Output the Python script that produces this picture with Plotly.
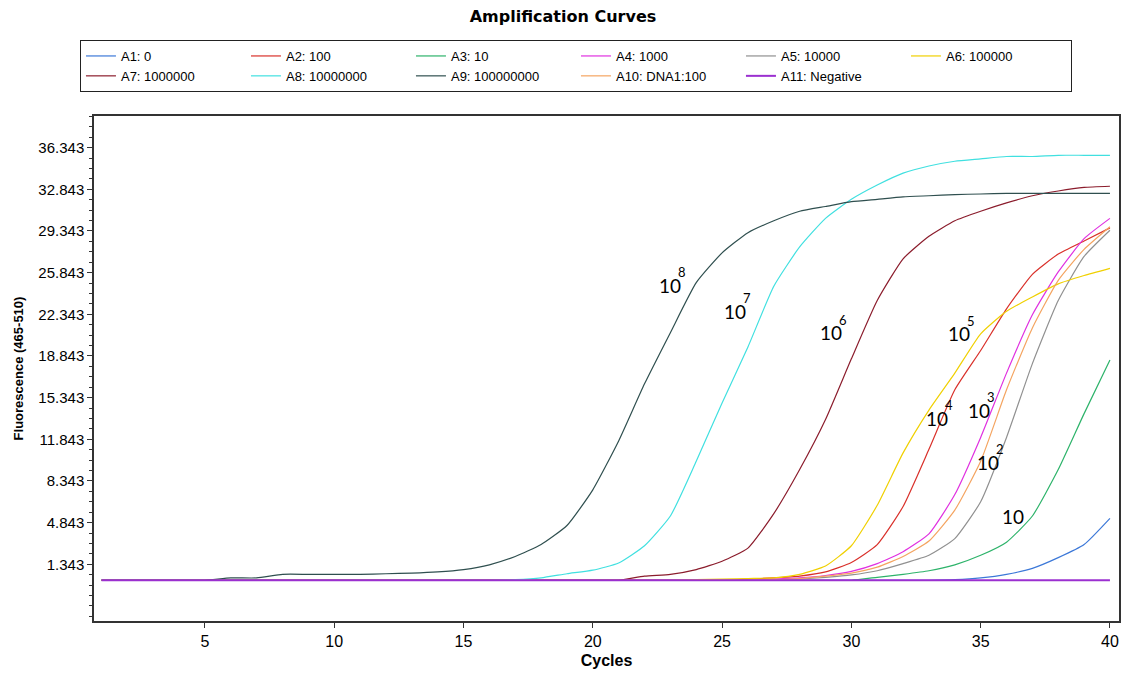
import plotly.graph_objects as go

cycles = list(range(1, 41))

series_names = ["A1: 0", "A2: 100", "A3: 10", "A4: 1000", "A5: 10000", "A6: 100000",
                "A7: 1000000", "A8: 10000000", "A9: 100000000", "A10: DNA1:100", "A11: Negative"]
series_colors = ["#3C78D8", "#D9302A", "#2DB36A", "#E030E0", "#909090", "#F0D000",
                 "#8B1C2C", "#40E0E0", "#2F4F4F", "#F4A460", "#9B30D0"]

a1 = [0]*33 + [0.05, 0.2, 0.5, 1.0, 1.9, 3.0, 5.2]
a2 = [0]*25 + [0.1, 0.2, 0.35, 0.7, 1.5, 3.0, 6.2, 11.0, 16.0, 19.3, 22.8, 25.7, 27.4, 28.5, 29.6]
a3 = [0]*30 + [0.25, 0.5, 0.8, 1.3, 2.1, 3.2, 5.4, 9.3, 14.0, 18.5]
a4 = [0]*26 + [0.1, 0.2, 0.4, 0.75, 1.4, 2.4, 3.9, 7.2, 12.0, 17.4, 22.3, 25.9, 28.7, 30.4]
a5 = [0]*27 + [0.1, 0.25, 0.45, 0.8, 1.4, 2.1, 3.5, 6.6, 12.0, 18.2, 23.5, 27.2, 29.4]
a6 = [0]*23 + [0.05, 0.1, 0.15, 0.2, 0.5, 1.2, 2.9, 6.3, 10.7, 14.3, 17.4, 20.7, 22.6, 23.8, 24.9, 25.6, 26.2]
a7 = [0]*21 + [0.35, 0.5, 0.9, 1.6, 2.7, 5.6, 9.3, 13.5, 18.6, 23.5, 27.0, 28.9, 30.2, 31.0, 31.7, 32.3, 32.7, 33.0, 33.1]
a8 = [0]*16 + [0.05, 0.2, 0.55, 0.85, 1.45, 2.9, 5.4, 10.0, 14.9, 19.6, 24.7, 28.0, 30.4, 32.0,
               33.2, 34.2, 34.8, 35.2, 35.4, 35.6, 35.6, 35.7, 35.7, 35.7]
a9 = [0, 0, 0, 0, 0, 0.2, 0.2, 0.5, 0.5, 0.5, 0.5, 0.55, 0.6, 0.7, 0.9, 1.3, 2.0, 3.0, 4.6, 7.6,
      11.7, 16.5, 20.8, 25.0, 27.5, 29.2, 30.2, 31.0, 31.4, 31.8, 32.0, 32.2, 32.3, 32.4, 32.45,
      32.5, 32.5, 32.5, 32.5, 32.5]
a10 = [0]*26 + [0.05, 0.15, 0.35, 0.6, 1.1, 2.0, 3.3, 5.9, 10.0, 16.0, 21.2, 25.2, 27.8, 29.7]
a11 = [0]*40

series_values = [a1, a2, a3, a4, a5, a6, a7, a8, a9, a10, a11]

y_tickvals = [1.343, 4.843, 8.343, 11.843, 15.343, 18.843, 22.343, 25.843, 29.343, 32.843, 36.343]
y_ticktext = ["1.343", "4.843", "8.343", "11.843", "15.343", "18.843", "22.343", "25.843",
              "29.343", "32.843", "36.343"]
x_tickvals = [5, 10, 15, 20, 25, 30, 35, 40]

label_base = ["10", "10", "10", "10", "10", "10", "10", "10"]
label_exp = ["8", "7", "6", "5", "4", "3", "2", ""]
label_x = [22.5, 25.0, 28.7, 33.65, 32.8, 34.45, 34.8, 35.75]
label_y = [24.8, 22.6, 20.8, 20.7, 13.6, 14.3, 9.9, 5.4]

fig = go.Figure()
for name, color, vals in zip(series_names, series_colors, series_values):
    fig.add_trace(go.Scatter(
        x=cycles, y=vals, mode="lines", name=name,
        line=dict(color=color, width=2 if name.startswith("A11") else 1.2,
                  shape="spline", smoothing=0.5),
    ))

for b, e, lx, ly in zip(label_base, label_exp, label_x, label_y):
    fig.add_annotation(x=lx, y=ly, text=b, showarrow=False, xanchor="left", yanchor="middle",
                       font=dict(family="Lato, Noto Sans, sans-serif", size=19, color="black"))
    if e:
        fig.add_annotation(x=lx, y=ly, text=e, showarrow=False, xanchor="left", yanchor="middle",
                           xshift=19, yshift=13,
                           font=dict(family="Lato, Noto Sans, sans-serif", size=13, color="black"))

# page body has an 8px margin, so the figure is sized/offset to land at the reference pixels
fig.update_layout(
    width=1121, height=665,
    paper_bgcolor="white", plot_bgcolor="white",
    margin=dict(l=86, r=10, t=108, b=52, autoexpand=False),
    title=dict(text="<b>Amplification Curves</b>", x=(563 - 8) / 1121, xref="container", xanchor="center",
               y=1 - 8/665, yref="container", yanchor="middle",
               font=dict(family="DejaVu Sans", size=16, color="black")),
    showlegend=True,
    legend=dict(orientation="h", x=-0.0137, xanchor="left", y=1.1505, yanchor="top",
                bordercolor="#222", borderwidth=1, bgcolor="white",
                font=dict(family="Liberation Sans", size=13, color="black"),
                entrywidth=120, entrywidthmode="pixels", tracegroupgap=0, itemwidth=30),
    xaxis=dict(range=[0.71, 40.35], tickmode="array", tickvals=x_tickvals, automargin=False,
               ticks="outside", ticklen=5, tickcolor="#333", showgrid=False, zeroline=False,
               showline=True, mirror=True, linecolor="#333", linewidth=1.5,
               tickfont=dict(family="Liberation Sans", size=16, color="black"),
               title=dict(text="<b>Cycles</b>", standoff=6,
                          font=dict(family="Liberation Sans", size=16, color="black"))),
    yaxis=dict(range=[-3.42, 39.0], tickmode="array", tickvals=y_tickvals, ticktext=y_ticktext,
               automargin=False,
               ticks="outside", ticklen=5, tickcolor="#333", showgrid=False, zeroline=False,
               showline=True, mirror=True, linecolor="#333", linewidth=1.5,
               minor=dict(tick0=1.343, dtick=0.875, ticks="outside", ticklen=3, tickcolor="#333", showgrid=False),
               tickfont=dict(family="Liberation Sans", size=15, color="black"),
               title=dict(text="<b>Fluorescence (465-510)</b>", standoff=12,
                          font=dict(family="Liberation Sans", size=13, color="black"))),
)

fig.write_html("out.html")
